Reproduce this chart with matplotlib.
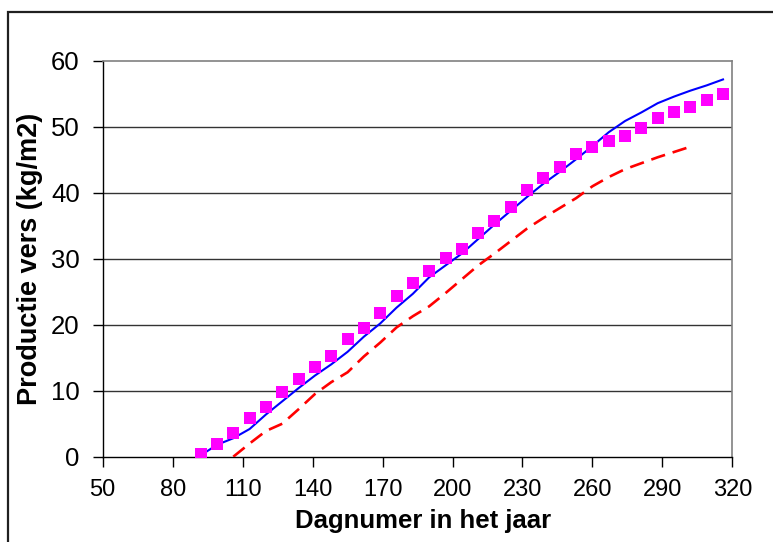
import matplotlib
matplotlib.use('Agg')
import matplotlib.pyplot as plt
from matplotlib.patches import Rectangle

plt.rcParams['font.family'] = ['Liberation Sans', 'DejaVu Sans']

# measured production (weekly), magenta squares
meas_days = [92, 99, 106, 113, 120, 127, 134, 141, 148, 155, 162, 169, 176, 183, 190,
             197, 204, 211, 218, 225, 232, 239, 246, 253, 260, 267, 274, 281, 288,
             295, 302, 309, 316]
meas_vals = [0.4, 1.9, 3.6, 5.8, 7.5, 9.8, 11.8, 13.6, 15.3, 17.9, 19.5, 21.8, 24.3,
             26.4, 28.1, 30.1, 31.5, 33.9, 35.8, 37.8, 40.4, 42.2, 43.9, 45.9, 47.0,
             47.9, 48.7, 49.8, 51.3, 52.2, 53.0, 54.1, 55.0]

# simulation 1 (blue solid)
sim1_days = [92, 99, 106, 113, 120, 127, 134, 141, 148, 155, 162, 169, 176, 183, 190,
             197, 204, 211, 218, 225, 232, 239, 246, 253, 260, 267, 274, 281, 288,
             295, 302, 309, 316]
sim1_vals = [0.2, 1.8, 2.8, 4.2, 6.4, 8.4, 10.4, 12.3, 14.0, 15.9, 18.2, 20.2, 22.6,
             24.7, 27.2, 29.0, 30.8, 33.0, 35.2, 37.3, 39.4, 41.4, 43.2, 45.1, 47.1,
             49.2, 50.9, 52.2, 53.6, 54.6, 55.5, 56.3, 57.2]

# simulation 2 (red dashed)
sim2_days = [106, 113, 120, 127, 134, 141, 148, 155, 162, 169, 176, 183, 190, 197,
             204, 211, 218, 225, 232, 239, 246, 253, 260, 267, 274, 281, 288, 295, 302]
sim2_vals = [0.0, 2.0, 3.9, 5.0, 7.2, 9.5, 11.3, 12.8, 15.2, 17.3, 19.6, 21.3, 22.8,
             24.8, 26.9, 29.0, 30.8, 32.7, 34.6, 36.2, 37.7, 39.2, 41.0, 42.4, 43.6,
             44.5, 45.4, 46.2, 47.0]

x_ticks = [50, 80, 110, 140, 170, 200, 230, 260, 290, 320]
y_ticks = [0, 10, 20, 30, 40, 50, 60]

fig = plt.figure(figsize=(7.73, 5.42), dpi=100)
ax = fig.add_axes([0.1329, 0.1574, 0.8145, 0.7301])

# outer chart frame (only top and left edge visible in the crop)
fig.patches.append(Rectangle((8 / 773, -0.2), 1.2, 1 - 12 / 542 + 0.2,
                             transform=fig.transFigure, fill=False,
                             edgecolor='#202020', linewidth=1.6))

for y in y_ticks[1:-1]:
    ax.axhline(y, color='#333333', linewidth=1.0, zorder=1)

ax.plot(sim1_days, sim1_vals, color='#0000ff', linewidth=1.5, zorder=3)
ax.plot(sim2_days, sim2_vals, color='#ff0000', linewidth=1.9,
        dashes=(5.5, 3), zorder=3)
ax.plot(meas_days, meas_vals, linestyle='none', marker='s', markersize=8.5,
        color='#ff00ff', markeredgewidth=0, zorder=4)

ax.set_xlim(50, 320)
ax.set_ylim(0, 60)
ax.set_xticks(x_ticks)
ax.set_yticks(y_ticks)
ax.tick_params(direction='out', length=7, width=1)
ax.tick_params(axis='x', pad=9, labelsize=17)
ax.tick_params(axis='y', pad=9.5, labelsize=18.5)

for side in ['top', 'right']:
    ax.spines[side].set_color('#808080')
    ax.spines[side].set_linewidth(1.2)
for side in ['left', 'bottom']:
    ax.spines[side].set_color('black')
    ax.spines[side].set_linewidth(1.0)

# axis titles placed as in the original (the y title overlaps the tick labels there too)
fig.text(423 / 773, 1 - 528 / 542, 'Dagnumer in het jaar', fontsize=18.5,
         fontweight='bold', ha='center', va='baseline')
fig.text(30 / 773, 1 - 259 / 542, 'Productie vers (kg/m2)', fontsize=19.5,
         fontweight='bold', ha='center', va='center', rotation=90)

fig.savefig('out.png', dpi=100)
